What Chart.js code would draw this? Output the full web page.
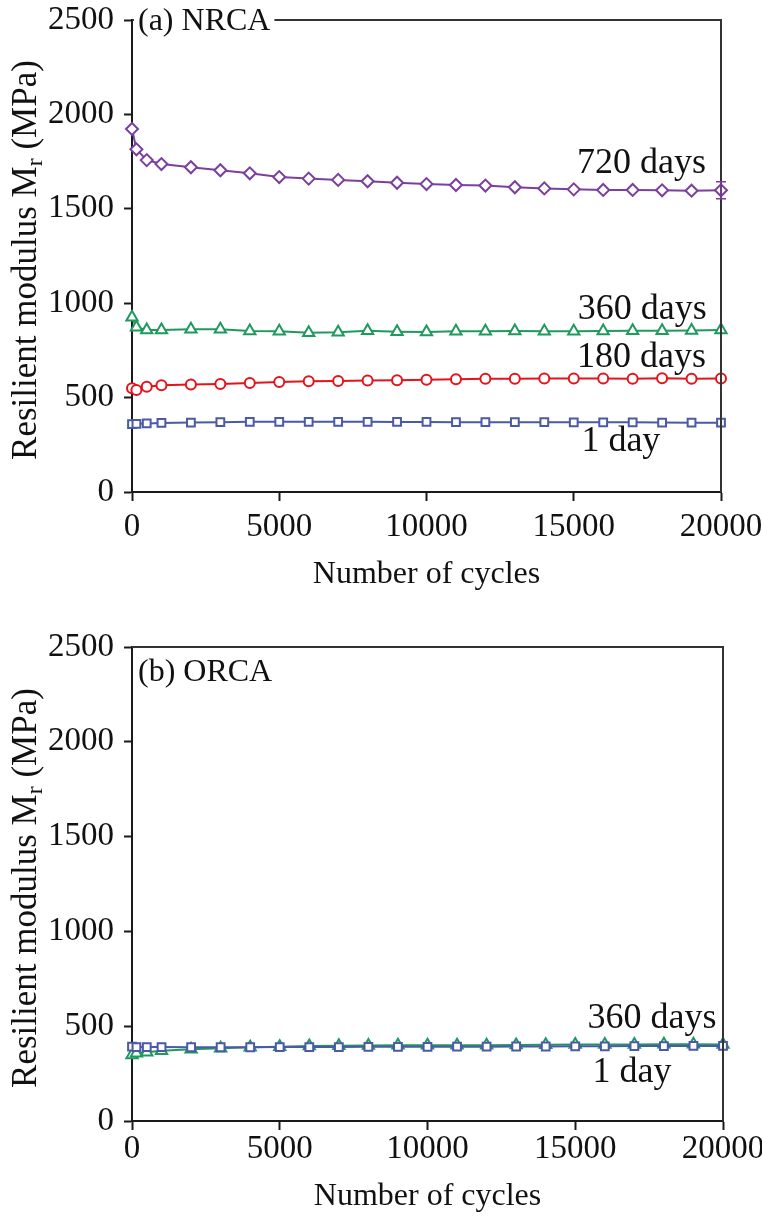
<!DOCTYPE html>
<html><head><meta charset="utf-8">
<script src="https://cdn.jsdelivr.net/npm/chart.js@4.4.1/dist/chart.umd.min.js"></script>
<style>
html,body{margin:0;padding:0;background:#fff;}
#w1{position:absolute;left:0;top:0;width:762px;height:600px;}
#w2{position:absolute;left:0;top:600px;width:762px;height:622px;}
</style></head><body>
<div id="w1"><canvas id="c1"></canvas></div>
<div id="w2"><canvas id="c2"></canvas></div>
<script>
// ---- data ----
const cycles = [0,150,500,1000,2000,3000,4000,5000,6000,7000,8000,9000,10000,11000,12000,13000,14000,15000,16000,17000,18000,19000,20000];
const nrca720 = [1923,1815,1758,1737,1720,1704,1688,1668,1660,1653,1646,1638,1631,1626,1623,1614,1608,1603,1600,1600,1598,1596,1598];
const nrca360 = [925,872,858,858,862,862,853,851,844,846,854,849,847,851,852,853,852,852,853,854,854,855,858];
const nrca180 = [549,540,558,565,570,572,577,583,586,588,590,592,594,597,600,600,601,601,601,600,602,600,601];
const nrca1   = [360,361,363,366,368,370,372,372,372,372,372,371,371,370,370,370,370,369,369,369,368,367,367];
const nrca720ErrCycles = [20000];
const nrca720ErrValues = [1598];
const nrca720ErrSize   = [45];
const orca1   = [392,390,390,390,389,389,389,390,390,390,391,391,391,392,392,393,393,394,394,395,395,396,396];
const orca360 = [348,357,362,371,378,384,389,392,395,397,398,399,399,400,400,401,402,403,404,404,405,405,404];
const xTicks = [0,5000,10000,15000,20000];
const yTicks = [0,500,1000,1500,2000,2500];
const xTitle = 'Number of cycles';
const yTitle = ['Resilient modulus M','r',' (MPa)'];
const panelA = '(a) NRCA';
const panelB = '(b) ORCA';
const labelsAText = ['720 days','360 days','180 days','1 day'];
const labelsAX = [17300,17330,17300,16600];
const labelsAY = [1741,964,710,265];
const labelsBText = ['360 days','1 day'];
const labelsBX = [17600,16920];
const labelsBY = [543,258];

const FONT = '"Liberation Serif", "Times New Roman", serif';
const C = {purple:'#7b3f9e', green:'#1f9a5e', red:'#e3141b', blue:'#4b5aa6', text:'#111', axis:'#1a1a1a'};

function pts(arr){ return cycles.map((c,i)=>({x:c,y:arr[i]})); }
function ds(label, arr, color, style, r){
  return {label, data:pts(arr), borderColor:color, backgroundColor:color, borderWidth:2,
    pointStyle:style, pointRadius:r, pointHoverRadius:r, pointBackgroundColor:'#fff',
    pointBorderColor:color, pointBorderWidth:2, tension:0, clip:false, fill:false};
}

function makeScales(yW, xH, xPad){
  return {
    x:{type:'linear', min:0, max:20000,
      afterBuildTicks:s=>{s.ticks = xTicks.map(v=>({value:v}));},
      afterFit:s=>{s.height = xH; s.paddingLeft = 0; s.paddingRight = 0;},
      ticks:{font:{family:FONT,size:33}, color:C.text, padding:xPad, maxRotation:0, autoSkip:false,
        callback:v=>String(v)},
      grid:{drawOnChartArea:false, drawTicks:true, tickLength:9, tickColor:C.axis, tickWidth:2},
      border:{display:true, color:C.axis, width:2},
      title:{display:true, text:xTitle, font:{family:FONT,size:32}, color:C.text, padding:{top:0,bottom:6}}
    },
    y:{type:'linear', min:0, max:2500,
      afterBuildTicks:s=>{s.ticks = yTicks.map(v=>({value:v}));},
      afterFit:s=>{s.width = yW; s.paddingTop = 0; s.paddingBottom = 0;},
      ticks:{font:{family:FONT,size:33}, color:C.text, padding:10, autoSkip:false,
        callback:v=>String(v)},
      grid:{drawOnChartArea:false, drawTicks:true, tickLength:8, tickColor:C.axis, tickWidth:2},
      border:{display:true, color:C.axis, width:2},
      title:{display:false}
    }
  };
}

function decoPlugin(panel, lt, lx, ly, err){
  return {
    id:'deco',
    afterDatasetsDraw(chart){
      const ctx = chart.ctx, a = chart.chartArea, xs = chart.scales.x, ys = chart.scales.y;
      ctx.save();
      // frame top/right
      ctx.strokeStyle = '#333'; ctx.lineWidth = 2;
      ctx.beginPath();
      ctx.moveTo(a.left, a.top); ctx.lineTo(a.right, a.top); ctx.lineTo(a.right, a.bottom);
      ctx.stroke();
      // error bars
      if (err){
        ctx.strokeStyle = C.purple; ctx.lineWidth = 1.6;
        err.x.forEach((xv,i)=>{
          const px = xs.getPixelForValue(xv);
          const p1 = ys.getPixelForValue(err.v[i]-err.e[i]);
          const p2 = ys.getPixelForValue(err.v[i]+err.e[i]);
          ctx.beginPath();
          ctx.moveTo(px,p1); ctx.lineTo(px,p2);
          ctx.moveTo(px-5,p1); ctx.lineTo(px+5,p1);
          ctx.moveTo(px-5,p2); ctx.lineTo(px+5,p2);
          ctx.stroke();
        });
      }
      // annotation labels
      ctx.fillStyle = C.text;
      ctx.font = '36px ' + FONT;
      ctx.textAlign = 'center'; ctx.textBaseline = 'middle';
      lt.forEach((t,i)=>{ ctx.fillText(t, xs.getPixelForValue(lx[i]), ys.getPixelForValue(ly[i])); });
      // panel label
      ctx.font = '32px ' + FONT;
      ctx.textAlign = 'left';
      const pw = ctx.measureText(panel.text).width;
      const py = a.top + panel.dy;
      if (panel.bg){ ctx.fillStyle = '#fff'; ctx.fillRect(a.left+2, py-14, pw+8, 28); ctx.fillStyle = C.text; }
      ctx.fillText(panel.text, a.left + 6, py);
      // y title with subscript
      ctx.translate(27, (a.top + a.bottom)/2 + 4);
      ctx.rotate(-Math.PI/2);
      const f = '35px ' + FONT, fs = '24px ' + FONT;
      ctx.font = f; const w1 = ctx.measureText(yTitle[0]).width, w3 = ctx.measureText(yTitle[2]).width;
      ctx.font = fs; const w2 = ctx.measureText(yTitle[1]).width;
      let x = -(w1+w2+w3)/2;
      ctx.textAlign = 'left'; ctx.textBaseline = 'middle';
      ctx.font = f; ctx.fillText(yTitle[0], x, 0); x += w1;
      ctx.font = fs; ctx.fillText(yTitle[1], x, 9); x += w2;
      ctx.font = f; ctx.fillText(yTitle[2], x, 0);
      ctx.restore();
    }
  };
}

const common = {responsive:true, maintainAspectRatio:false, animation:false, devicePixelRatio:1,
  plugins:{legend:{display:false}, tooltip:{enabled:false}}, events:[]};

new Chart(document.getElementById('c1'), {
  type:'line',
  data:{datasets:[
    ds('1 day', nrca1, C.blue, 'rect', 5.5),
    ds('180 days', nrca180, C.red, 'circle', 5),
    ds('360 days', nrca360, C.green, 'triangle', 6.5),
    ds('720 days', nrca720, C.purple, 'rectRot', 6)
  ]},
  options:Object.assign({}, common, {
    layout:{padding:{top:20, right:41, left:0, bottom:0}},
    scales:makeScales(132, 108, 7)
  }),
  plugins:[decoPlugin({text:panelA, dy:2, bg:true}, labelsAText, labelsAX, labelsAY,
    {x:nrca720ErrCycles, v:nrca720ErrValues, e:nrca720ErrSize})]
});

new Chart(document.getElementById('c2'), {
  type:'line',
  data:{datasets:[
    ds('1 day', orca1, C.blue, 'rect', 5.5),
    ds('360 days', orca360, C.green, 'triangle', 6.5)
  ]},
  options:Object.assign({}, common, {
    layout:{padding:{top:47, right:39, left:0, bottom:0}},
    scales:makeScales(132, 101, 0)
  }),
  plugins:[decoPlugin({text:panelB, dy:26, bg:false}, labelsBText, labelsBX, labelsBY, null)]
});
</script>
</body></html>
